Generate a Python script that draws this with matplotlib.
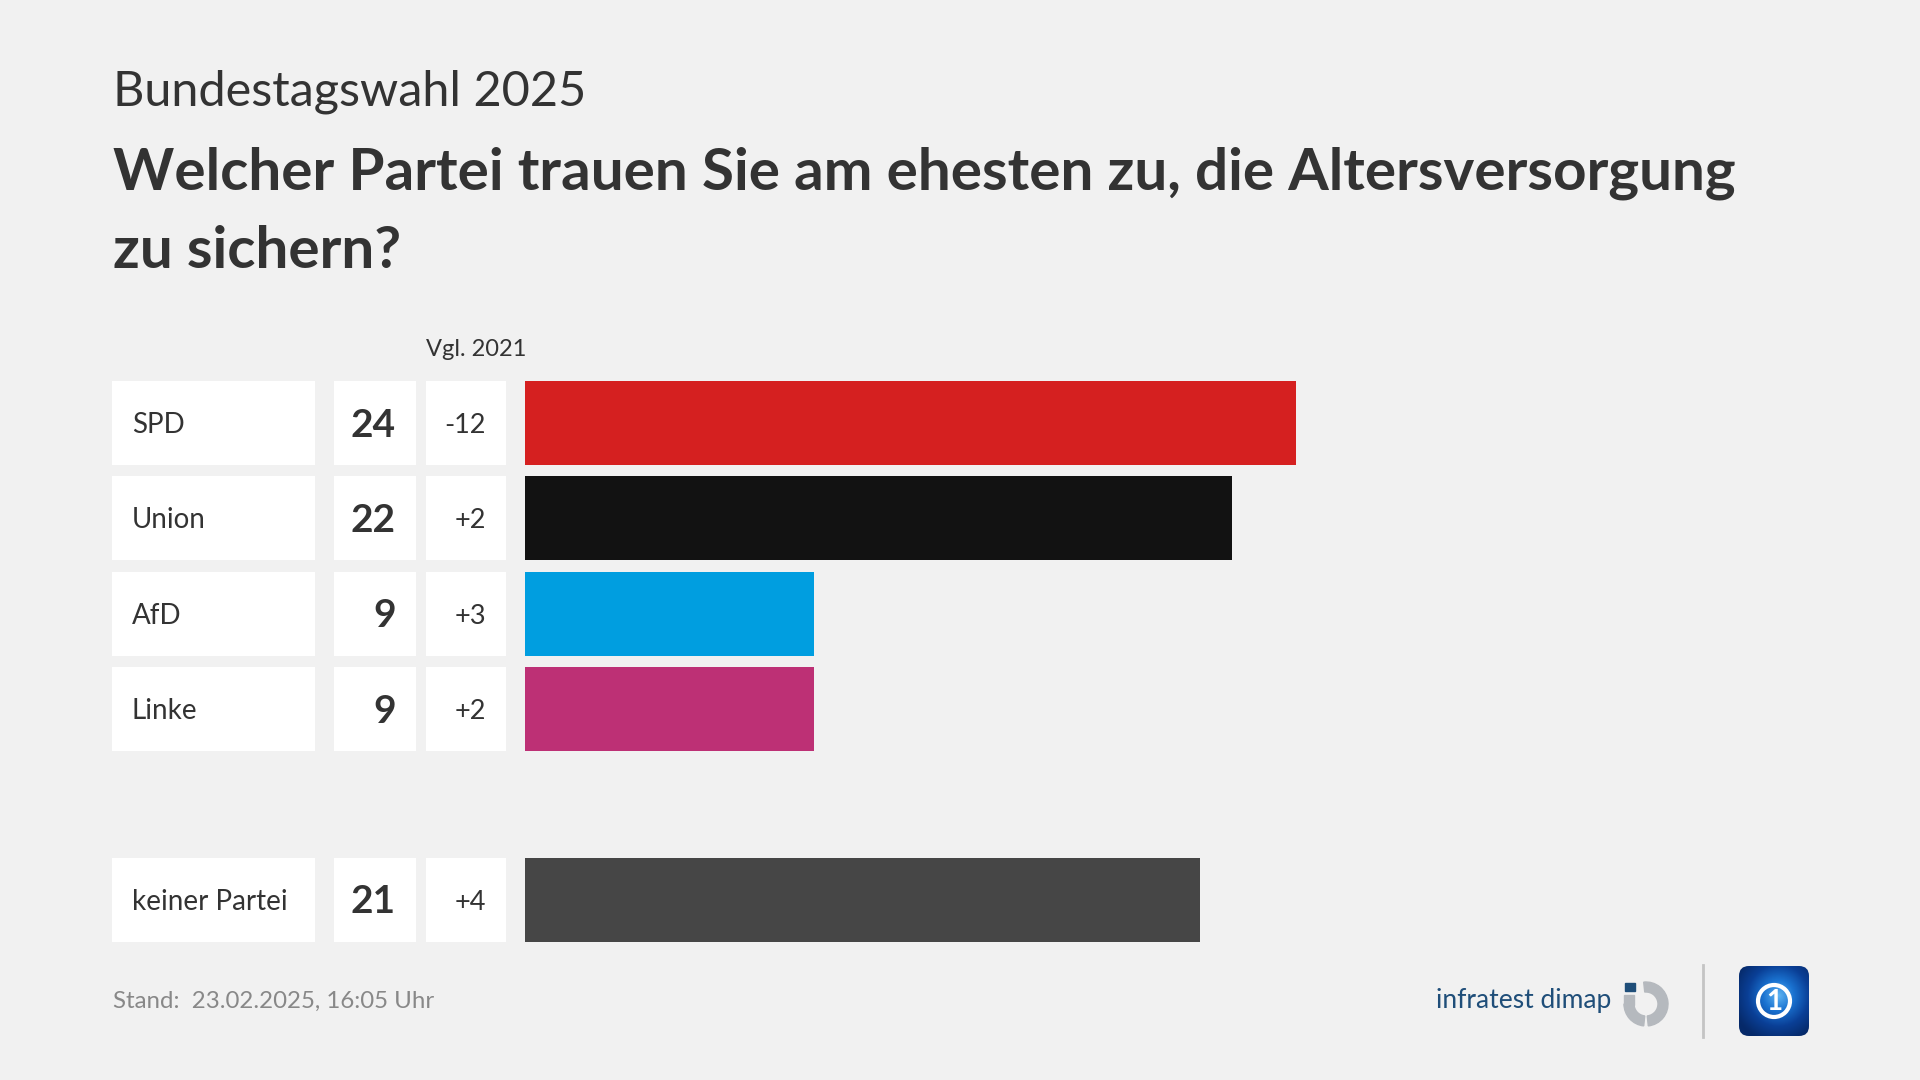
import matplotlib.pyplot as plt
import numpy as np
from matplotlib.patches import FancyBboxPatch, Wedge, Circle, Rectangle
from matplotlib.colors import LinearSegmentedColormap

plt.rcParams['font.family'] = ['Lato', 'DejaVu Sans']

W, H = 1920, 1080

parteien = ['SPD', 'Union', 'AfD', 'Linke', 'keiner Partei']
werte = [24, 22, 9, 9, 21]
vgl_2021 = ['-12', '+2', '+3', '+2', '+4']
farben = ['#d52020', '#121212', '#009ee0', '#bd3075', '#464646']
zeilen = [0, 1, 2, 3, 5]   # Zeile 4 bleibt leer

BG = '#f1f1f1'
TXT = '#333333'


def fx(x):
    return x / W


def fy(y):
    return 1 - y / H


fig = plt.figure(figsize=(19.2, 10.8), dpi=100, facecolor=BG)

# Kopf
fig.text(fx(113), fy(105), 'Bundestagswahl 2025', fontsize=35, color=TXT,
         fontweight='normal', va='baseline')
fig.text(fx(113), fy(190), 'Welcher Partei trauen Sie am ehesten zu, die Altersversorgung',
         fontsize=42, fontweight='bold', color=TXT, va='baseline')
fig.text(fx(113), fy(268), 'zu sichern?', fontsize=42, fontweight='bold',
         color=TXT, va='baseline')

# Geometrie der Zeilen
row_pitch = 95.3
row0_center = 423
y_top = row0_center - 0.5 * row_pitch
y_bot = row0_center + 5.5 * row_pitch
bar_h = 84 / row_pitch
px_per_unit = 32.14
x_units = 40

# Balken
ax = fig.add_axes([fx(525), fy(y_bot), x_units * px_per_unit / W, (y_bot - y_top) / H])
ax.barh(zeilen, werte, height=bar_h, color=farben)
ax.set_xlim(0, x_units)
ax.set_ylim(5.5, -0.5)
ax.axis('off')

# Tabelle links
tab = fig.add_axes([fx(112), fy(y_bot), (506 - 112) / W, (y_bot - y_top) / H])
tab.set_xlim(112, 506)
tab.set_ylim(5.5, -0.5)
tab.axis('off')
for l, r in [(112, 315), (334, 416), (426, 506)]:
    tab.barh(zeilen, r - l, left=l, height=bar_h, color='white')

for z, name, w, d in zip(zeilen, parteien, werte, vgl_2021):
    tab.text(132, z + 0.105, name, va='baseline', fontsize=20, color=TXT)
    tab.text(396, z + 0.144, str(w), ha='right', va='baseline', fontsize=28,
             fontweight='bold', color=TXT)
    tab.text(486, z + 0.105, d, ha='right', va='baseline', fontsize=19.5, color=TXT)

fig.text(fx(426), fy(356), 'Vgl. 2021', fontsize=17, color=TXT, va='baseline')

# Fuß
fig.text(fx(113), fy(1008), 'Stand:  23.02.2025, 16:05 Uhr', fontsize=17.3,
         color='#888888', va='baseline')
fig.text(fx(1611), fy(1008), 'infratest dimap', fontsize=19, color='#1f4e79',
         ha='right', va='baseline')

# infratest dimap Symbol
logo = fig.add_axes([fx(1620), fy(1030), 52 / W, 52 / H])
logo.set_xlim(0, 52)
logo.set_ylim(0, 52)
logo.axis('off')
grau = '#b5b9be'
logo.add_patch(Wedge((26, 26), 22, -84, 96, width=10, color=grau))
logo.add_patch(Wedge((26, 26), 22, 180, 264, width=10, color=grau))
logo.add_patch(Rectangle((4, 25.5), 10, 9.5, color=grau))
logo.add_patch(Rectangle((5, 39), 10, 8.5, color='#1f4e79'))

fig.add_artist(plt.Line2D([fx(1703), fx(1703)], [fy(965), fy(1037)],
                          transform=fig.transFigure, color='#c4c4c4', lw=2))

# tagesschau App-Symbol
app = fig.add_axes([fx(1738), fy(1037), 72 / W, 72 / H])
app.set_xlim(0, 72)
app.set_ylim(72, 0)
app.axis('off')
yy, xx = np.mgrid[0:72, 0:72]
rr = np.clip(np.hypot(xx - 40, yy - 30) / 46, 0, 1)
verlauf = LinearSegmentedColormap.from_list('ts', ['#5fb4f2', '#1a72d0', '#0a3f96', '#062a6a'])
img = app.imshow(rr, cmap=verlauf, extent=(0, 72, 72, 0))
box = FancyBboxPatch((1, 1), 70, 70, boxstyle='round,pad=0,rounding_size=10',
                     facecolor='none', edgecolor='none')
app.add_patch(box)
img.set_clip_path(box)
app.add_patch(Circle((36, 36), 16, facecolor='none', edgecolor='white', lw=3))
app.text(36, 37, '1', ha='center', va='center', fontsize=20, fontweight='bold',
         color='white')

fig.savefig('out.png', dpi=100, facecolor=BG)
